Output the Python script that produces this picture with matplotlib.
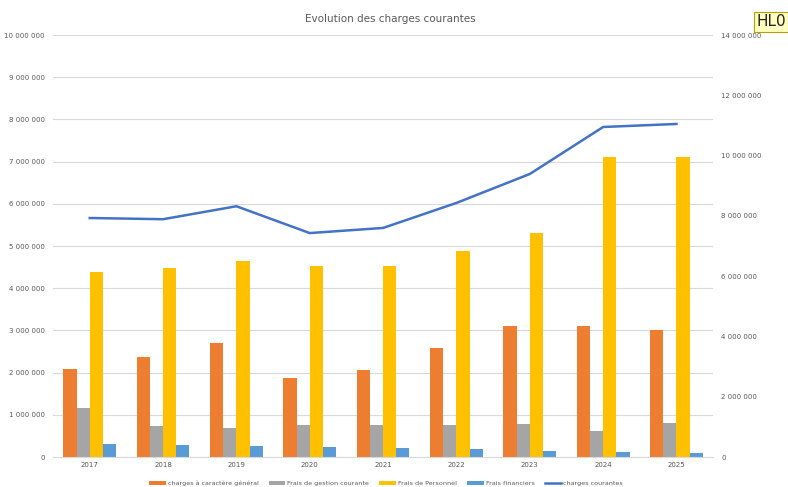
import numpy as np
import matplotlib.pyplot as plt
from matplotlib.ticker import FuncFormatter

years = ["2017", "2018", "2019", "2020", "2021", "2022", "2023", "2024", "2025"]
charges_generales = [2080000, 2370000, 2700000, 1880000, 2070000, 2580000, 3110000, 3100000, 3020000]
frais_gestion = [1160000, 740000, 690000, 750000, 770000, 750000, 780000, 610000, 810000]
frais_personnel = [4380000, 4470000, 4640000, 4520000, 4530000, 4890000, 5300000, 7100000, 7100000]
frais_financiers = [300000, 280000, 250000, 240000, 210000, 180000, 150000, 120000, 90000]
charges_courantes = [7930000, 7890000, 8320000, 7430000, 7600000, 8430000, 9390000, 10950000, 11050000]

txt = '#595959'
fmt = FuncFormatter(lambda v, p: '{:,.0f}'.format(v).replace(',', ' '))

fig = plt.figure(figsize=(7.88, 4.87), dpi=100)
ax = fig.add_axes([0.0673, 0.0616, 0.8377, 0.8664])
ax2 = ax.twinx()

x = np.arange(len(years))
w = 0.18
series = [
    (charges_generales, '#ED7D31', 'charges à caractère général'),
    (frais_gestion, '#A5A5A5', 'Frais de gestion courante'),
    (frais_personnel, '#FFC000', 'Frais de Personnel'),
    (frais_financiers, '#5B9BD5', 'Frais financiers'),
]
for i, (vals, col, lab) in enumerate(series):
    ax.bar(x + (i - 1.5) * w, vals, width=w, color=col, label=lab, zorder=2)

ax2.plot(x, charges_courantes, color='#4472C4', lw=1.8, label='charges courantes')

ax.set_xlim(-0.5, 8.5)
ax.set_ylim(0, 10000000)
ax.set_yticks(np.arange(0, 10000001, 1000000))
ax2.set_ylim(0, 14000000)
ax2.set_yticks(np.arange(0, 14000001, 2000000))
ax.yaxis.set_major_formatter(fmt)
ax2.yaxis.set_major_formatter(fmt)
ax.set_xticks(x)
ax.set_xticklabels(years)

ax.grid(axis='y', color='#D9D9D9', lw=0.8, zorder=0)
ax.set_axisbelow(True)
for a in (ax, ax2):
    for s in a.spines.values():
        s.set_visible(False)
    a.tick_params(length=0, labelsize=5, colors=txt)
ax.spines['bottom'].set_visible(True)
ax.spines['bottom'].set_color('#D9D9D9')
ax.tick_params(axis='y', pad=6)
ax2.tick_params(axis='y', pad=6)

fig.text(0.495, 0.962, 'Evolution des charges courantes', ha='center', va='center',
         fontsize=7.5, color=txt)

h1, l1 = ax.get_legend_handles_labels()
h2, l2 = ax2.get_legend_handles_labels()
fig.legend(h1 + h2, l1 + l2, loc='center', bbox_to_anchor=(0.49, 0.008), ncol=5,
           frameon=False, fontsize=4.6, labelcolor=txt, handlelength=2.6,
           handleheight=0.6, columnspacing=1.6, handletextpad=0.3)

fig.text(0.997, 0.955, 'HL0', ha='right', va='center', fontsize=11, color='#222222',
         bbox=dict(boxstyle='square,pad=0.15', fc='#FFFFC0', ec='#B0A000', lw=0.8))

fig.savefig('out.png', dpi=100)
